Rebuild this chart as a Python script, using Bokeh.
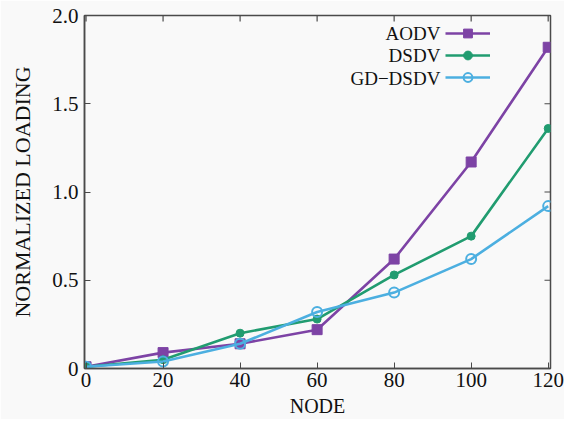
import math
from bokeh.plotting import figure
from bokeh.models import FixedTicker, CustomJSTickFormatter, Range1d, Legend, LegendItem, Label
from bokeh.embed import file_html
from bokeh.resources import INLINE

nodes = [0, 20, 40, 60, 80, 100, 120]
aodv = [0.01, 0.09, 0.14, 0.22, 0.62, 1.17, 1.82]
dsdv = [0.01, 0.05, 0.20, 0.28, 0.53, 0.75, 1.36]
gd_dsdv = [0.01, 0.04, 0.14, 0.32, 0.43, 0.62, 0.92]
series_names = ["AODV", "DSDV", "GD\u2212DSDV"]
x_ticks = [0, 20, 40, 60, 80, 100, 120]
y_ticks = [0, 0.5, 1.0, 1.5, 2.0]

X0, X1 = -0.4, 120.6
Y0, Y1 = 0.0, 2.0

FONT = "Liberation Serif"
AX = "#4a4a4a"
TXT = "#111111"
BG = "#f9f9f9"

p = figure(frame_width=466, frame_height=353, output_backend="svg", toolbar_location=None,
           x_range=Range1d(X0, X1), y_range=Range1d(Y0, Y1),
           min_border_left=84, min_border_right=14, min_border_top=15, min_border_bottom=48,
           background_fill_color=BG, border_fill_color=BG)
p.grid.visible = False
p.outline_line_color = AX
p.outline_line_width = 1.5

fmt = CustomJSTickFormatter(code="return tick == 0 ? '0' : tick.toFixed(1);")

for ax in [p.xaxis[0], p.yaxis[0]]:
    ax.major_tick_in = 6
    ax.major_tick_out = 0
    ax.minor_tick_line_color = None
    ax.axis_line_color = AX
    ax.axis_line_width = 1.5
    ax.major_tick_line_color = AX
    ax.major_label_text_font = FONT
    ax.major_label_text_font_size = "21px"
    ax.major_label_text_color = TXT
    ax.axis_label_text_font = FONT
    ax.axis_label_text_font_style = "normal"
    ax.axis_label_text_color = TXT

p.xaxis[0].ticker = FixedTicker(ticks=x_ticks)
p.yaxis[0].ticker = FixedTicker(ticks=y_ticks)
p.yaxis[0].formatter = fmt
p.xaxis[0].axis_label = "NODE"
p.yaxis[0].axis_label = "NORMALIZED LOADING"
p.xaxis[0].axis_label_text_font_size = "20px"
p.yaxis[0].axis_label_text_font_size = "22px"
p.xaxis[0].major_label_standoff = 4
p.xaxis[0].axis_label_standoff = 5
p.yaxis[0].major_label_standoff = 6
p.yaxis[0].axis_label_standoff = 14

# inward ticks on the top and right frame edges (half of each dash is clipped by the frame)
p.scatter(x_ticks, [Y1] * len(x_ticks), marker="dash", angle=math.pi / 2, size=12,
          line_color=AX, line_width=1.2)
p.scatter([X1] * len(y_ticks), y_ticks, marker="dash", size=12, line_color=AX, line_width=1.2)

c1, c2, c3 = "#7d43a5", "#219c70", "#4cafe0"
l1 = p.line(nodes, aodv, line_color=c1, line_width=2.6)
m1 = p.scatter(nodes, aodv, marker="square", size=10, color=c1)
l2 = p.line(nodes, dsdv, line_color=c2, line_width=2.6)
m2 = p.scatter(nodes, dsdv, marker="circle", size=8, color=c2)
l3 = p.line(nodes, gd_dsdv, line_color=c3, line_width=2.6)
m3 = p.scatter(nodes, gd_dsdv, marker="circle", size=10, line_color=c3, line_width=2, fill_color=None)

legend = Legend(items=[LegendItem(label="", renderers=[l1, m1]),
                       LegendItem(label="", renderers=[l2, m2]),
                       LegendItem(label="", renderers=[l3, m3])],
                location=(361, 280), border_line_color=None, background_fill_alpha=0,
                label_text_font_size="1px", label_standoff=0,
                glyph_width=45, glyph_height=22, label_height=22, label_width=0,
                spacing=0, padding=0, margin=0)
p.add_layout(legend)

# legend texts, right-aligned to the left of the sample glyphs
legend_text_x = 92.0
legend_text_y = [1.898, 1.773, 1.643]
for name, ty in zip(series_names, legend_text_y):
    p.add_layout(Label(x=legend_text_x, y=ty, text=name, text_align="right",
                       text_baseline="middle", text_font=FONT, text_font_size="19px",
                       text_color=TXT))

open("out.html", "w").write(file_html(p, INLINE))
